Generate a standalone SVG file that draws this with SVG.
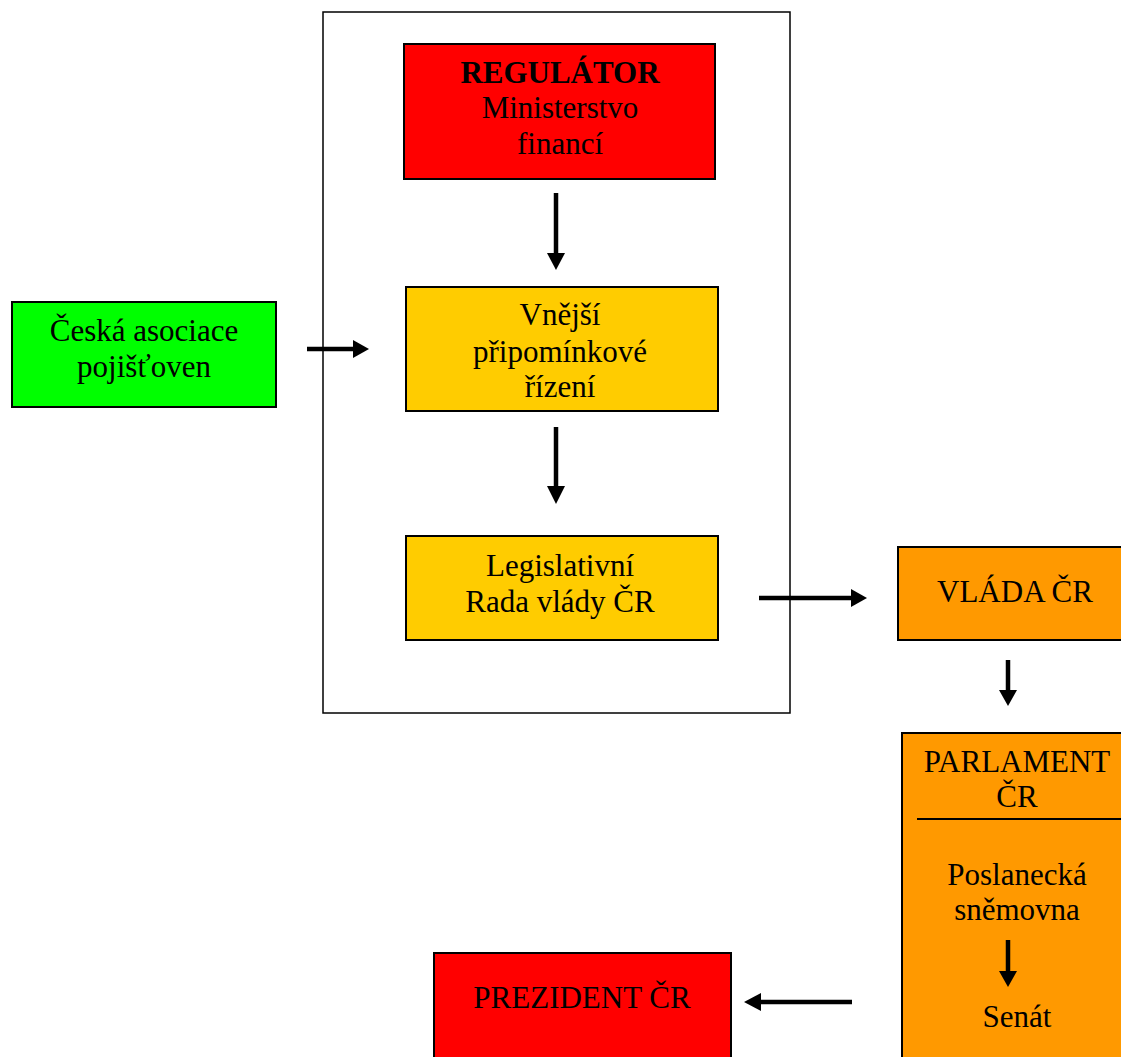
<svg xmlns="http://www.w3.org/2000/svg" width="1121" height="1057" viewBox="0 0 1121 1057">
<style>
text{font-family:"Liberation Serif","Times New Roman",serif;font-size:31px;fill:#000;text-anchor:middle}
.b{stroke:#000;stroke-width:2}
.c{stroke:#000;stroke-width:4.5;fill:none}
.h{fill:#000}
</style>
<rect width="1121" height="1057" fill="#fff"/>
<g id="frame"><rect x="323" y="12" width="467" height="701" fill="none" stroke="#000" stroke-width="1.5"/></g>
<g id="regulator"><rect class="b" x="404" y="44" width="311" height="135" fill="#FF0000"/>
<text x="560" y="83" font-weight="bold">REGULÁTOR</text><text x="560" y="118">Ministerstvo</text><text x="560" y="154">financí</text></g>
<g id="vnejsi"><rect class="b" x="406" y="287" width="312" height="124" fill="#FFCC00"/>
<text x="560" y="325">Vnější</text><text x="560" y="362">připomínkové</text><text x="560" y="397">řízení</text></g>
<g id="legislativni"><rect class="b" x="406" y="536" width="312" height="104" fill="#FFCC00"/>
<text x="560" y="576">Legislativní</text><text x="560" y="612">Rada vlády ČR</text></g>
<g id="cap"><rect class="b" x="12" y="302" width="264" height="105" fill="#00FF00"/>
<text x="144" y="341">Česká asociace</text><text x="144" y="377">pojišťoven</text></g>
<g id="vlada"><rect class="b" x="898" y="547" width="230" height="93" fill="#FF9900"/>
<text x="1015" y="602">VLÁDA ČR</text></g>
<g id="parlament"><rect class="b" x="902" y="733" width="230" height="340" fill="#FF9900"/>
<text x="1017" y="772">PARLAMENT</text><text x="1017" y="807">ČR</text>
<line x1="917" y1="819" x2="1121" y2="819" stroke="#000" stroke-width="2"/>
<text x="1017" y="885">Poslanecká</text><text x="1017" y="920">sněmovna</text><text x="1017" y="1027">Senát</text></g>
<g id="prezident"><rect class="b" x="434" y="953" width="297" height="120" fill="#FF0000"/>
<text x="582" y="1008">PREZIDENT ČR</text></g>
<g id="connectors">
<line class="c" x1="556" y1="193" x2="556" y2="255"/><polygon class="h" points="547,253 565,253 556,270"/>
<line class="c" x1="556" y1="427" x2="556" y2="488"/><polygon class="h" points="547,486 565,486 556,504"/>
<line class="c" x1="307" y1="349" x2="355" y2="349"/><polygon class="h" points="353,340 353,358 369,349"/>
<line class="c" x1="759" y1="598" x2="853" y2="598"/><polygon class="h" points="851,589 851,607 867,598"/>
<line class="c" x1="1008" y1="660" x2="1008" y2="692"/><polygon class="h" points="999,690 1017,690 1008,706"/>
<line class="c" x1="1008" y1="940" x2="1008" y2="973"/><polygon class="h" points="999,971 1017,971 1008,987"/>
<line class="c" x1="852" y1="1002" x2="759" y2="1002"/><polygon class="h" points="761,993 761,1011 744,1002"/>
</g>
</svg>
